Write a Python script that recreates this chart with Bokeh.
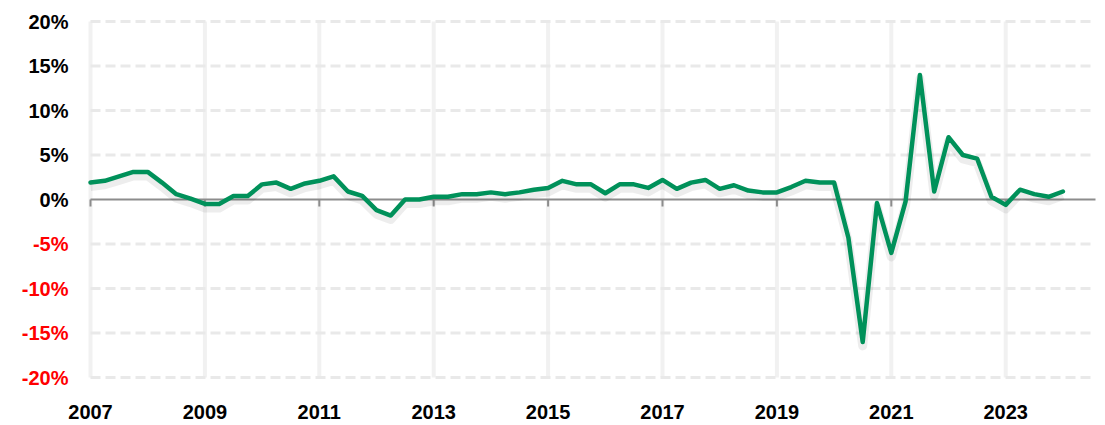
from bokeh.plotting import figure
from bokeh.models import Range1d
from bokeh.core.properties import value
from bokeh.embed import file_html
from bokeh.resources import INLINE

# ---- data ----
quarters = [f"{y}Q{q}" for y in range(2007, 2025) for q in range(1, 5)][:69]
growth = [
    1.9, 2.1, 2.6, 3.1, 3.1,
    1.9, 0.6, 0.1, -0.5, -0.5,
    0.4, 0.4, 1.7, 1.9, 1.2,
    1.8, 2.1, 2.6, 0.9, 0.4,
    -1.2, -1.8, 0.0, 0.0, 0.3,
    0.3, 0.6, 0.6, 0.8, 0.6,
    0.8, 1.1, 1.3, 2.1, 1.7,
    1.7, 0.7, 1.7, 1.7, 1.3,
    2.2, 1.2, 1.9, 2.2, 1.2,
    1.6, 1.0, 0.8, 0.8, 1.4,
    2.1, 1.9, 1.9, -4.3, -16.0,
    -0.4, -6.0, -0.2, 14.0, 0.9,
    7.0, 5.0, 4.6, 0.3, -0.6,
    1.1, 0.6, 0.3, 0.9,
]
year_ticks = [2007, 2009, 2011, 2013, 2015, 2017, 2019, 2021, 2023]
year_labels = [str(y) for y in year_ticks]
y_ticks = [20, 15, 10, 5, 0, -5, -10, -15, -20]
y_labels = [f"{t}%" for t in y_ticks]
y_colors = ["#000000" if t >= 0 else "#ff0000" for t in y_ticks]
x_end = 2024.57  # right end of the category axis

x = [int(q[:4]) + (int(q[5]) - 1) / 4 for q in quarters]

FONT = "Liberation Sans"
GREEN = "#00915A"

# whole canvas is the frame; ranges chosen so the data area sits where the axes would be
PX_X = 57.2   # px per year
PX_Y = 8.9    # px per percent
W, H = 1100, 424
x0_px, y0_px = 90, 199
xr = Range1d(2007 - x0_px / PX_X, 2007 + (W - x0_px) / PX_X)
yr = Range1d(-(H - y0_px) / PX_Y, y0_px / PX_Y)

p = figure(width=W, height=H, output_backend="svg", toolbar_location=None,
           x_range=xr, y_range=yr,
           min_border_left=0, min_border_right=0, min_border_top=0, min_border_bottom=0)
p.outline_line_color = None
p.background_fill_color = "white"
p.border_fill_color = "white"
p.xaxis.visible = False
p.yaxis.visible = False
p.xgrid.visible = False
p.ygrid.visible = False

ymin, ymax = y_ticks[-1], y_ticks[0]
xmin = year_ticks[0]

# vertical gridlines
p.segment(x0=year_ticks, y0=[ymin] * len(year_ticks), x1=year_ticks, y1=[ymax] * len(year_ticks),
          line_color="#f1f1f1", line_width=4)
# horizontal dashed gridlines
hticks = [t for t in y_ticks if t != 0]
p.segment(x0=[xmin] * len(hticks), y0=hticks, x1=[x_end] * len(hticks), y1=hticks,
          line_color="#e9e9e9", line_width=3, line_dash="10 5")

# zero line and its ticks
p.segment(x0=[xmin], y0=[0], x1=[x_end], y1=[0], line_color="#8c8c8c", line_width=2)
p.segment(x0=year_ticks, y0=[0] * len(year_ticks), x1=year_ticks, y1=[-0.8] * len(year_ticks),
          line_color="#8c8c8c", line_width=2)

# shadow of the line
off = 4 / PX_Y
p.extra_y_ranges = {"shadow": Range1d(yr.start + off, yr.end + off)}
p.line(x, growth, y_range_name="shadow", line_color="#000000", line_alpha=0.07,
       line_width=9, line_join="round")
p.line(x, growth, line_color=GREEN, line_width=4.5, line_join="round", line_cap="round")

# y tick labels
p.text(x=[xmin] * len(y_ticks), y=y_ticks, text=y_labels, x_offset=-22,
       text_align="right", text_baseline="middle", text_color=y_colors,
       text_font=value(FONT), text_font_style="bold", text_font_size="20px")
# x tick labels
p.text(x=year_ticks, y=[ymin] * len(year_ticks), text=year_labels, y_offset=27,
       text_align="center", text_baseline="top", text_color="#000000",
       text_font=value(FONT), text_font_style="bold", text_font_size="20px")

open("out.html", "w").write(file_html(p, INLINE))
